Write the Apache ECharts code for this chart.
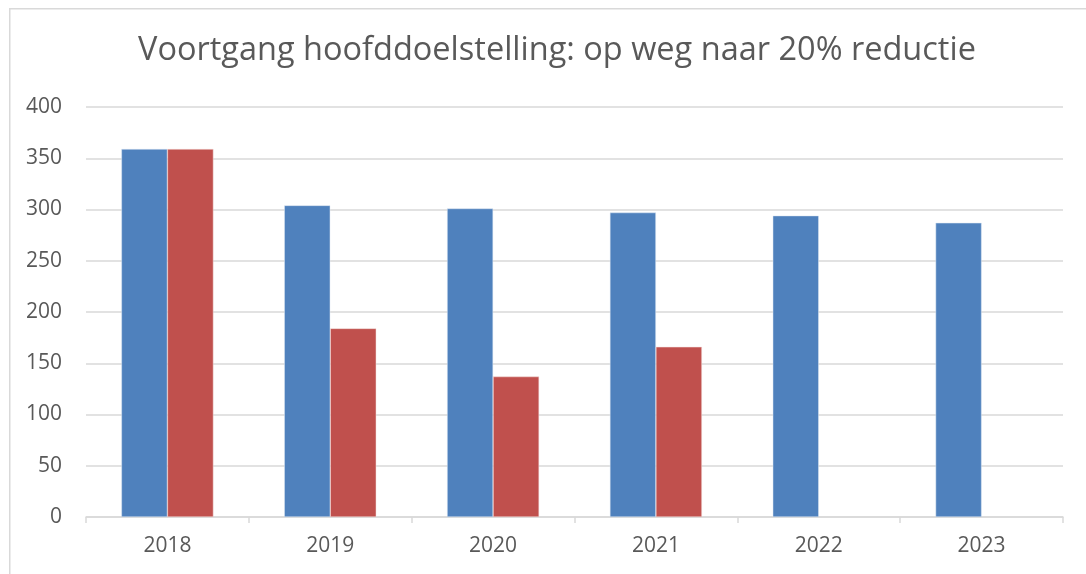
<!DOCTYPE html>
<html>
<head>
<meta charset="utf-8">
<script src="https://cdn.jsdelivr.net/npm/echarts@6/dist/echarts.min.js"></script>
<style>html,body{margin:0;padding:0;background:#fff;}#c{width:1086px;height:574px;}</style>
</head>
<body>
<div id="c"></div>
<script>
const categories = ['2018', '2019', '2020', '2021', '2022', '2023'];
const seriesBlue = [359, 304, 301, 297, 294, 287];
const seriesRed = [359, 184, 137, 166, null, null];
const titleText = 'Voortgang hoofddoelstelling: op weg naar 20% reductie';

const chart = echarts.init(document.getElementById('c'), null, {renderer: 'canvas'});
chart.setOption({
  animation: false,
  backgroundColor: '#ffffff',
  graphic: [{
    type: 'rect', left: 9, top: 8, z: -1,
    shape: {width: 1200, height: 700},
    style: {fill: '#ffffff', stroke: '#D9D9D9', lineWidth: 1.5}
  }],
  title: {
    text: titleText, left: 133, top: 29,
    textStyle: {fontFamily: 'Open Sans', fontWeight: 'normal', fontSize: 32.5, color: '#595959'}
  },
  grid: {left: 86, right: 23, top: 107, bottom: 57, containLabel: false},
  xAxis: {
    type: 'category', data: categories,
    axisLine: {lineStyle: {color: '#D9D9D9', width: 1.5}},
    axisTick: {show: true, length: 6, lineStyle: {color: '#D9D9D9', width: 1.5}},
    axisLabel: {color: '#595959', fontSize: 21, fontFamily: 'Open Sans', margin: 19}
  },
  yAxis: {
    type: 'value', min: 0, max: 400, interval: 50,
    axisLine: {show: false}, axisTick: {show: false},
    splitLine: {lineStyle: {color: '#D9D9D9', width: 1.5}},
    axisLabel: {color: '#595959', fontSize: 21, fontFamily: 'Open Sans', margin: 24}
  },
  series: [
    {type: 'bar', data: seriesBlue, barWidth: 46, barGap: '0%',
     itemStyle: {color: '#4F81BD', borderColor: '#DCE6F2', borderWidth: 0.5}},
    {type: 'bar', data: seriesRed, barWidth: 46,
     itemStyle: {color: '#C0504D', borderColor: '#F2DCDB', borderWidth: 0.5}}
  ]
});
</script>
</body>
</html>
